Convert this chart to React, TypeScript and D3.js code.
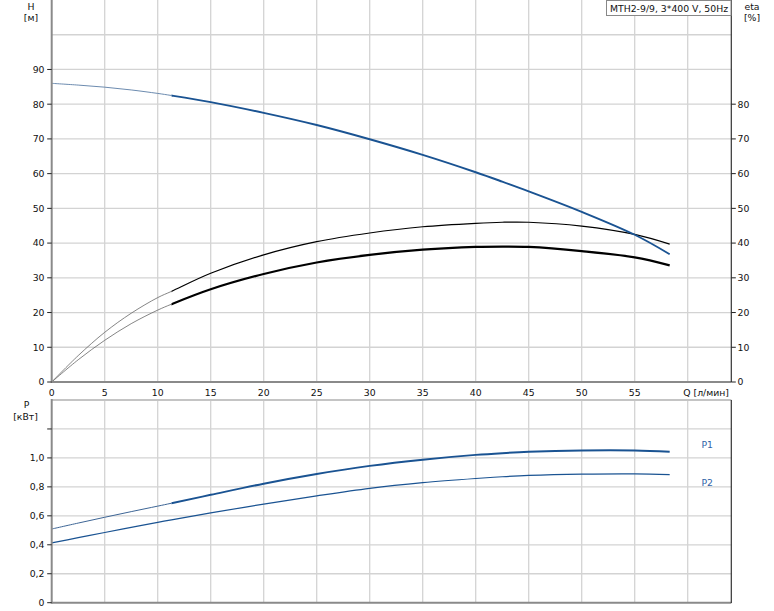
import React from 'react';
import * as d3 from 'd3';

// Flow rate Q [л/мин]
const Q = [0, 2.5, 5, 7.5, 10, 11.3, 15, 20, 25, 30, 35, 40, 42.5, 45, 50, 55, 58.3];
// Head H [м]
const H = [86, 85.5, 84.9, 84.1, 83.1, 82.5, 80.6, 77.5, 74.0, 69.9, 65.4, 60.4, 57.7, 54.9, 49.0, 42.4, 36.8];
// Efficiency curves [%]
const ETA_UPPER = [0, 7.6, 14.3, 19.8, 24.3, 26.1, 31.3, 36.6, 40.4, 42.9, 44.7, 45.7, 46.0, 46.0, 44.9, 42.5, 39.7];
const ETA_LOWER = [0, 6.4, 12.0, 16.8, 20.7, 22.4, 26.7, 31.1, 34.4, 36.6, 38.1, 38.9, 39.0, 38.9, 37.7, 35.9, 33.6];
// Power [кВт]
const P1 = [0.509, 0.55, 0.59, 0.629, 0.667, 0.687, 0.745, 0.822, 0.889, 0.945, 0.988, 1.021, 1.033, 1.042, 1.051, 1.051, 1.043];
const P2 = [0.413, 0.449, 0.485, 0.52, 0.555, 0.572, 0.62, 0.681, 0.738, 0.79, 0.829, 0.858, 0.87, 0.879, 0.888, 0.89, 0.884];

const X_TICKS = [0, 5, 10, 15, 20, 25, 30, 35, 40, 45, 50, 55];
const H_TICKS = [0, 10, 20, 30, 40, 50, 60, 70, 80, 90];
const ETA_TICKS = [0, 10, 20, 30, 40, 50, 60, 70, 80];
const P_TICKS = [0, 0.2, 0.4, 0.6, 0.8, 1.0];
const P_TICK_LABELS = ['0', '0,2', '0,4', '0,6', '0,8', '1,0'];

const TITLE = 'MTH2-9/9, 3*400 V, 50Hz';
const THICK_FROM = 11.3;

const FONT = '"DejaVu Sans", Verdana, sans-serif';
const FS = 9.3;
const BLUE = '#1a5392';
const GRID = '#d3d3d3';
const AXIS = '#8a8a8a';

export default function App() {
  const L = 51.7;
  const R = 731.3;
  const x = d3.scaleLinear().domain([0, 64]).range([L, L + 64 * 10.6]);
  const yT = d3.scaleLinear().domain([0, 110]).range([382, 0]);
  const yB = d3.scaleLinear().domain([0, 1.4]).range([602.7, 400]);

  const pts = (ys: number[]) => Q.map((q, i) => [q, ys[i]] as [number, number]);
  const mk = (y: d3.ScaleLinear<number, number>) =>
    d3.line<[number, number]>().x(d => x(d[0])).y(d => y(d[1])).curve(d3.curveCatmullRom.alpha(0.5));
  const lineT = mk(yT);
  const lineB = mk(yB);

  const gridX = d3.range(5, 61, 5);
  const gridYT = d3.range(10, 101, 10);
  const gridYB = [0.2, 0.4, 0.6, 0.8, 1.0, 1.2];

  const hP = pts(H), eU = pts(ETA_UPPER), eL = pts(ETA_LOWER), p1 = pts(P1), p2 = pts(P2);
  const xs = x(THICK_FROM);

  const txt = { fontFamily: FONT, fontSize: FS, fill: '#111' } as const;

  return (
    <svg width={774} height={611} style={{ position: 'absolute', left: 0, top: 0, background: '#fff' }}>
      <defs>
        <clipPath id="thin">
          <rect x={0} y={0} width={xs} height={611} />
        </clipPath>
        <clipPath id="thick">
          <rect x={xs} y={0} width={774 - xs} height={611} />
        </clipPath>
      </defs>
      {/* grids */}
      {gridX.map(v => (
        <g key={'gx' + v}>
          <line x1={x(v)} x2={x(v)} y1={0} y2={382} stroke={GRID} strokeWidth={1.3} />
          <line x1={x(v)} x2={x(v)} y1={400} y2={602.7} stroke={GRID} strokeWidth={1.3} />
        </g>
      ))}
      {gridYT.map(v => (
        <line key={'gt' + v} x1={L} x2={R} y1={yT(v)} y2={yT(v)} stroke={GRID} strokeWidth={1.3} />
      ))}
      {gridYB.map(v => (
        <line key={'gb' + v} x1={L} x2={R} y1={yB(v)} y2={yB(v)} stroke={GRID} strokeWidth={1.3} />
      ))}

      {/* curves top */}
      <path d={lineT(eU) || ''} fill="none" stroke="#666" strokeWidth={0.8} clipPath="url(#thin)" />
      <path d={lineT(eU) || ''} fill="none" stroke="#000" strokeWidth={1.2} clipPath="url(#thick)" />
      <path d={lineT(eL) || ''} fill="none" stroke="#666" strokeWidth={0.8} clipPath="url(#thin)" />
      <path d={lineT(eL) || ''} fill="none" stroke="#000" strokeWidth={2.2} clipPath="url(#thick)" />
      <path d={lineT(hP) || ''} fill="none" stroke="#5b7ea6" strokeWidth={0.9} clipPath="url(#thin)" />
      <path d={lineT(hP) || ''} fill="none" stroke={BLUE} strokeWidth={1.9} clipPath="url(#thick)" />

      {/* curves bottom */}
      <path d={lineB(p1) || ''} fill="none" stroke="#3d6595" strokeWidth={1} clipPath="url(#thin)" />
      <path d={lineB(p1) || ''} fill="none" stroke={BLUE} strokeWidth={2} clipPath="url(#thick)" />
      <path d={lineB(p2) || ''} fill="none" stroke={BLUE} strokeWidth={1.2} />

      {/* axes top */}
      <line x1={L} x2={L} y1={0} y2={383} stroke={AXIS} strokeWidth={2} />
      <line x1={L} x2={R} y1={382} y2={382} stroke={AXIS} strokeWidth={2} />
      <line x1={R} x2={R} y1={0} y2={382} stroke="#333" strokeWidth={1.2} />
      {H_TICKS.map(v => (
        <g key={'ht' + v}>
          <line x1={L - 4.5} x2={L} y1={yT(v)} y2={yT(v)} stroke="#222" strokeWidth={1} />
          <text x={44.5} y={yT(v)} dy="0.36em" textAnchor="end" {...txt}>{v}</text>
        </g>
      ))}
      {ETA_TICKS.map(v => (
        <g key={'et' + v}>
          <line x1={R} x2={R + 4.5} y1={yT(v)} y2={yT(v)} stroke="#222" strokeWidth={1} />
          <text x={737.5} y={yT(v)} dy="0.36em" textAnchor="start" {...txt}>{v}</text>
        </g>
      ))}
      {X_TICKS.map(v => (
        <text key={'xt' + v} x={x(v)} y={395.5} textAnchor="middle" {...txt}>{v}</text>
      ))}
      <text x={729} y={395.5} textAnchor="end" {...txt}>Q [л/мин]</text>

      <text x={31} y={10} textAnchor="middle" {...txt}>H</text>
      <text x={31} y={21} textAnchor="middle" {...txt}>[м]</text>
      <text x={752} y={10} textAnchor="middle" {...txt}>eta</text>
      <text x={752} y={21} textAnchor="middle" {...txt}>[%]</text>

      {/* title box */}
      <rect x={606.5} y={0.5} width={124.5} height={15} fill="#fff" stroke="#888" strokeWidth={1} />
      <text x={610} y={11.5} {...txt}>{TITLE}</text>

      {/* axes bottom */}
      <line x1={L} x2={R} y1={400} y2={400} stroke="#c4c4c4" strokeWidth={1.8} />
      <line x1={L} x2={L} y1={399} y2={603.7} stroke={AXIS} strokeWidth={2} />
      <line x1={L} x2={R} y1={602.7} y2={602.7} stroke={AXIS} strokeWidth={2} />
      <line x1={R} x2={R} y1={400} y2={603} stroke="#333" strokeWidth={1.2} />
      {[...P_TICKS, 1.2].map(v => (
        <line key={'pt' + v} x1={L - 4.5} x2={L} y1={yB(v)} y2={yB(v)} stroke="#222" strokeWidth={1} />
      ))}
      {P_TICKS.map((v, i) => (
        <text key={'pl' + v} x={44.5} y={yB(v)} dy="0.36em" textAnchor="end" {...txt}>{P_TICK_LABELS[i]}</text>
      ))}
      <text x={26.5} y={408} textAnchor="middle" {...txt}>P</text>
      <text x={25.5} y={420} textAnchor="middle" {...txt}>[кВт]</text>

      <text x={701.5} y={448} fontFamily={FONT} fontSize={FS} fill="#2f64a8">P1</text>
      <text x={701.5} y={485.5} fontFamily={FONT} fontSize={FS} fill="#2f64a8">P2</text>
    </svg>
  );
}
